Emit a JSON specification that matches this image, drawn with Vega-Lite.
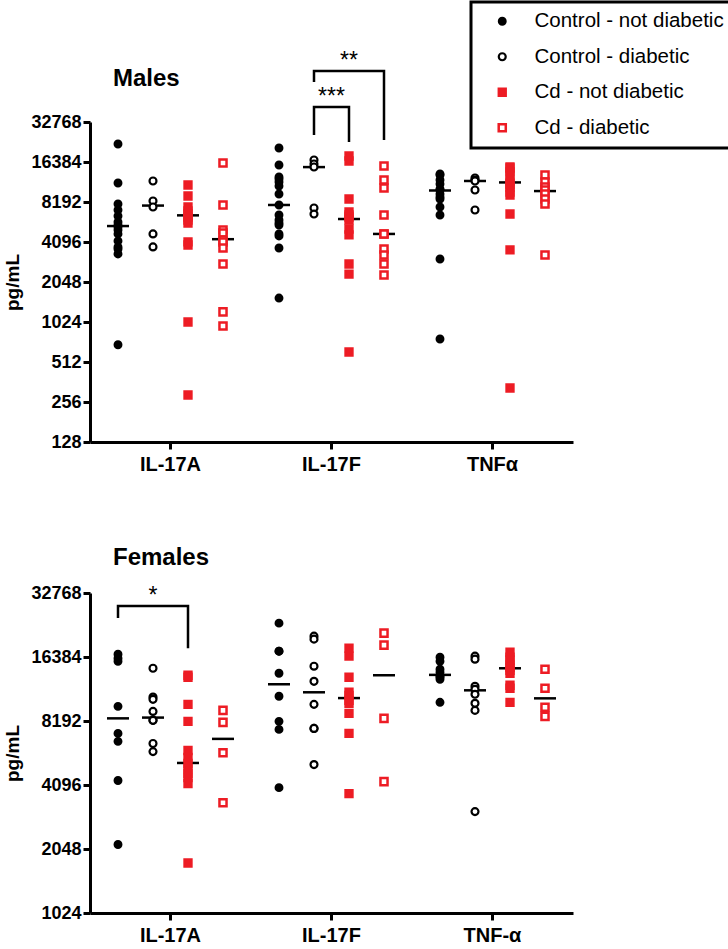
{
"$schema":"https://vega.github.io/schema/vega-lite/v6.json",
"padding":{"left":3,"top":0,"right":0,"bottom":0},
"spacing":72,
"config":{
 "view":{"stroke":null},
 "font":"Liberation Sans",
 "axis":{"domainColor":"black","domainWidth":3,"tickColor":"black","tickWidth":3,"tickSize":7,"labelColor":"black","labelFont":"Liberation Sans","labelFontWeight":"bold","labelFontSize":18,"titleColor":"black","titleFont":"Liberation Sans","titleFontWeight":"bold","titleFontSize":19,"grid":false,"labelPadding":2},
 "axisX":{"labelFontSize":20},
 "legend":{"labelFont":"Liberation Sans","labelFontSize":20.5,"labelColor":"black","labelLimit":400,"padding":9,"rowPadding":14.5,"symbolOffset":12,"labelOffset":22,"strokeColor":"black","fillColor":"white"}
},
"resolve":{"scale":{"x":"independent","y":"independent","xOffset":"independent"},"legend":{"color":"independent","fill":"independent","shape":"independent","size":"independent","strokeWidth":"independent"}},
"datasets":{
 "points":[
{"s":"Males","c":"IL-17A","g":"Control - not diabetic","v":22380},
{"s":"Males","c":"IL-17A","g":"Control - not diabetic","v":11390},
{"s":"Males","c":"IL-17A","g":"Control - not diabetic","v":7910},
{"s":"Males","c":"IL-17A","g":"Control - not diabetic","v":7130},
{"s":"Males","c":"IL-17A","g":"Control - not diabetic","v":6430},
{"s":"Males","c":"IL-17A","g":"Control - not diabetic","v":5790},
{"s":"Males","c":"IL-17A","g":"Control - not diabetic","v":5500},
{"s":"Males","c":"IL-17A","g":"Control - not diabetic","v":5310},
{"s":"Males","c":"IL-17A","g":"Control - not diabetic","v":5040},
{"s":"Males","c":"IL-17A","g":"Control - not diabetic","v":4710},
{"s":"Males","c":"IL-17A","g":"Control - not diabetic","v":4170},
{"s":"Males","c":"IL-17A","g":"Control - not diabetic","v":3760},
{"s":"Males","c":"IL-17A","g":"Control - not diabetic","v":3630},
{"s":"Males","c":"IL-17A","g":"Control - not diabetic","v":3330},
{"s":"Males","c":"IL-17A","g":"Control - not diabetic","v":690},
{"s":"Males","c":"IL-17A","g":"Control - diabetic","v":11790},
{"s":"Males","c":"IL-17A","g":"Control - diabetic","v":8340},
{"s":"Males","c":"IL-17A","g":"Control - diabetic","v":7510},
{"s":"Males","c":"IL-17A","g":"Control - diabetic","v":4710},
{"s":"Males","c":"IL-17A","g":"Control - diabetic","v":3760},
{"s":"Males","c":"IL-17A","g":"Cd - not diabetic","v":11000},
{"s":"Males","c":"IL-17A","g":"Cd - not diabetic","v":9090},
{"s":"Males","c":"IL-17A","g":"Cd - not diabetic","v":7510},
{"s":"Males","c":"IL-17A","g":"Cd - not diabetic","v":7010},
{"s":"Males","c":"IL-17A","g":"Cd - not diabetic","v":6650},
{"s":"Males","c":"IL-17A","g":"Cd - not diabetic","v":6320},
{"s":"Males","c":"IL-17A","g":"Cd - not diabetic","v":6000},
{"s":"Males","c":"IL-17A","g":"Cd - not diabetic","v":5690},
{"s":"Males","c":"IL-17A","g":"Cd - not diabetic","v":4100},
{"s":"Males","c":"IL-17A","g":"Cd - not diabetic","v":3890},
{"s":"Males","c":"IL-17A","g":"Cd - not diabetic","v":1024},
{"s":"Males","c":"IL-17A","g":"Cd - not diabetic","v":289},
{"s":"Males","c":"IL-17A","g":"Cd - diabetic","v":16100},
{"s":"Males","c":"IL-17A","g":"Cd - diabetic","v":7780},
{"s":"Males","c":"IL-17A","g":"Cd - diabetic","v":5040},
{"s":"Males","c":"IL-17A","g":"Cd - diabetic","v":4790},
{"s":"Males","c":"IL-17A","g":"Cd - diabetic","v":4240},
{"s":"Males","c":"IL-17A","g":"Cd - diabetic","v":4100},
{"s":"Males","c":"IL-17A","g":"Cd - diabetic","v":3690},
{"s":"Males","c":"IL-17A","g":"Cd - diabetic","v":2800},
{"s":"Males","c":"IL-17A","g":"Cd - diabetic","v":1220},
{"s":"Males","c":"IL-17A","g":"Cd - diabetic","v":955},
{"s":"Males","c":"IL-17F","g":"Control - not diabetic","v":20880},
{"s":"Males","c":"IL-17F","g":"Control - not diabetic","v":15560},
{"s":"Males","c":"IL-17F","g":"Control - not diabetic","v":12640},
{"s":"Males","c":"IL-17F","g":"Control - not diabetic","v":12200},
{"s":"Males","c":"IL-17F","g":"Control - not diabetic","v":11590},
{"s":"Males","c":"IL-17F","g":"Control - not diabetic","v":10810},
{"s":"Males","c":"IL-17F","g":"Control - not diabetic","v":9410},
{"s":"Males","c":"IL-17F","g":"Control - not diabetic","v":7780},
{"s":"Males","c":"IL-17F","g":"Control - not diabetic","v":6540},
{"s":"Males","c":"IL-17F","g":"Control - not diabetic","v":6000},
{"s":"Males","c":"IL-17F","g":"Control - not diabetic","v":5690},
{"s":"Males","c":"IL-17F","g":"Control - not diabetic","v":5500},
{"s":"Males","c":"IL-17F","g":"Control - not diabetic","v":4710},
{"s":"Males","c":"IL-17F","g":"Control - not diabetic","v":4550},
{"s":"Males","c":"IL-17F","g":"Control - not diabetic","v":3690},
{"s":"Males","c":"IL-17F","g":"Control - not diabetic","v":1550},
{"s":"Males","c":"IL-17F","g":"Control - diabetic","v":16960},
{"s":"Males","c":"IL-17F","g":"Control - diabetic","v":15830},
{"s":"Males","c":"IL-17F","g":"Control - diabetic","v":15020},
{"s":"Males","c":"IL-17F","g":"Control - diabetic","v":7380},
{"s":"Males","c":"IL-17F","g":"Control - diabetic","v":6650},
{"s":"Males","c":"IL-17F","g":"Cd - not diabetic","v":18180},
{"s":"Males","c":"IL-17F","g":"Cd - not diabetic","v":16680},
{"s":"Males","c":"IL-17F","g":"Cd - not diabetic","v":8630},
{"s":"Males","c":"IL-17F","g":"Cd - not diabetic","v":6890},
{"s":"Males","c":"IL-17F","g":"Cd - not diabetic","v":6540},
{"s":"Males","c":"IL-17F","g":"Cd - not diabetic","v":6320},
{"s":"Males","c":"IL-17F","g":"Cd - not diabetic","v":6000},
{"s":"Males","c":"IL-17F","g":"Cd - not diabetic","v":5130},
{"s":"Males","c":"IL-17F","g":"Cd - not diabetic","v":4630},
{"s":"Males","c":"IL-17F","g":"Cd - not diabetic","v":2800},
{"s":"Males","c":"IL-17F","g":"Cd - not diabetic","v":2350},
{"s":"Males","c":"IL-17F","g":"Cd - not diabetic","v":609},
{"s":"Males","c":"IL-17F","g":"Cd - diabetic","v":15290},
{"s":"Males","c":"IL-17F","g":"Cd - diabetic","v":11990},
{"s":"Males","c":"IL-17F","g":"Cd - diabetic","v":10440},
{"s":"Males","c":"IL-17F","g":"Cd - diabetic","v":6540},
{"s":"Males","c":"IL-17F","g":"Cd - diabetic","v":4710},
{"s":"Males","c":"IL-17F","g":"Cd - diabetic","v":4710},
{"s":"Males","c":"IL-17F","g":"Cd - diabetic","v":3630},
{"s":"Males","c":"IL-17F","g":"Cd - diabetic","v":3270},
{"s":"Males","c":"IL-17F","g":"Cd - diabetic","v":2800},
{"s":"Males","c":"IL-17F","g":"Cd - diabetic","v":2310},
{"s":"Males","c":"TNFα","g":"Control - not diabetic","v":13310},
{"s":"Males","c":"TNFα","g":"Control - not diabetic","v":13080},
{"s":"Males","c":"TNFα","g":"Control - not diabetic","v":11990},
{"s":"Males","c":"TNFα","g":"Control - not diabetic","v":11190},
{"s":"Males","c":"TNFα","g":"Control - not diabetic","v":10270},
{"s":"Males","c":"TNFα","g":"Control - not diabetic","v":10090},
{"s":"Males","c":"TNFα","g":"Control - not diabetic","v":9410},
{"s":"Males","c":"TNFα","g":"Control - not diabetic","v":8930},
{"s":"Males","c":"TNFα","g":"Control - not diabetic","v":8630},
{"s":"Males","c":"TNFα","g":"Control - not diabetic","v":7510},
{"s":"Males","c":"TNFα","g":"Control - not diabetic","v":6540},
{"s":"Males","c":"TNFα","g":"Control - not diabetic","v":3050},
{"s":"Males","c":"TNFα","g":"Control - not diabetic","v":763},
{"s":"Males","c":"TNFα","g":"Control - diabetic","v":12420},
{"s":"Males","c":"TNFα","g":"Control - diabetic","v":11990},
{"s":"Males","c":"TNFα","g":"Control - diabetic","v":11790},
{"s":"Males","c":"TNFα","g":"Control - diabetic","v":10090},
{"s":"Males","c":"TNFα","g":"Control - diabetic","v":7130},
{"s":"Males","c":"TNFα","g":"Cd - not diabetic","v":15020},
{"s":"Males","c":"TNFα","g":"Cd - not diabetic","v":14770},
{"s":"Males","c":"TNFα","g":"Cd - not diabetic","v":13780},
{"s":"Males","c":"TNFα","g":"Cd - not diabetic","v":12860},
{"s":"Males","c":"TNFα","g":"Cd - not diabetic","v":11590},
{"s":"Males","c":"TNFα","g":"Cd - not diabetic","v":11190},
{"s":"Males","c":"TNFα","g":"Cd - not diabetic","v":10620},
{"s":"Males","c":"TNFα","g":"Cd - not diabetic","v":9740},
{"s":"Males","c":"TNFα","g":"Cd - not diabetic","v":9250},
{"s":"Males","c":"TNFα","g":"Cd - not diabetic","v":6650},
{"s":"Males","c":"TNFα","g":"Cd - not diabetic","v":3570},
{"s":"Males","c":"TNFα","g":"Cd - not diabetic","v":326},
{"s":"Males","c":"TNFα","g":"Cd - diabetic","v":13080},
{"s":"Males","c":"TNFα","g":"Cd - diabetic","v":11590},
{"s":"Males","c":"TNFα","g":"Cd - diabetic","v":10620},
{"s":"Males","c":"TNFα","g":"Cd - diabetic","v":10090},
{"s":"Males","c":"TNFα","g":"Cd - diabetic","v":9410},
{"s":"Males","c":"TNFα","g":"Cd - diabetic","v":8630},
{"s":"Males","c":"TNFα","g":"Cd - diabetic","v":7910},
{"s":"Males","c":"TNFα","g":"Cd - diabetic","v":3270},
{"s":"Females","c":"IL-17A","g":"Control - not diabetic","v":16890},
{"s":"Females","c":"IL-17A","g":"Control - not diabetic","v":16180},
{"s":"Females","c":"IL-17A","g":"Control - not diabetic","v":15650},
{"s":"Females","c":"IL-17A","g":"Control - not diabetic","v":9600},
{"s":"Females","c":"IL-17A","g":"Control - not diabetic","v":7160},
{"s":"Females","c":"IL-17A","g":"Control - not diabetic","v":6570},
{"s":"Females","c":"IL-17A","g":"Control - not diabetic","v":4300},
{"s":"Females","c":"IL-17A","g":"Control - not diabetic","v":2150},
{"s":"Females","c":"IL-17A","g":"Control - diabetic","v":14500},
{"s":"Females","c":"IL-17A","g":"Control - diabetic","v":10620},
{"s":"Females","c":"IL-17A","g":"Control - diabetic","v":10360},
{"s":"Females","c":"IL-17A","g":"Control - diabetic","v":9090},
{"s":"Females","c":"IL-17A","g":"Control - diabetic","v":8250},
{"s":"Females","c":"IL-17A","g":"Control - diabetic","v":8250},
{"s":"Females","c":"IL-17A","g":"Control - diabetic","v":6420},
{"s":"Females","c":"IL-17A","g":"Control - diabetic","v":5880},
{"s":"Females","c":"IL-17A","g":"Cd - not diabetic","v":13450},
{"s":"Females","c":"IL-17A","g":"Cd - not diabetic","v":13160},
{"s":"Females","c":"IL-17A","g":"Cd - not diabetic","v":9810},
{"s":"Females","c":"IL-17A","g":"Cd - not diabetic","v":8160},
{"s":"Females","c":"IL-17A","g":"Cd - not diabetic","v":5950},
{"s":"Females","c":"IL-17A","g":"Cd - not diabetic","v":5520},
{"s":"Females","c":"IL-17A","g":"Cd - not diabetic","v":5170},
{"s":"Females","c":"IL-17A","g":"Cd - not diabetic","v":4890},
{"s":"Females","c":"IL-17A","g":"Cd - not diabetic","v":4640},
{"s":"Females","c":"IL-17A","g":"Cd - not diabetic","v":4440},
{"s":"Females","c":"IL-17A","g":"Cd - not diabetic","v":4160},
{"s":"Females","c":"IL-17A","g":"Cd - not diabetic","v":1760},
{"s":"Females","c":"IL-17A","g":"Cd - diabetic","v":9190},
{"s":"Females","c":"IL-17A","g":"Cd - diabetic","v":8070},
{"s":"Females","c":"IL-17A","g":"Cd - diabetic","v":5810},
{"s":"Females","c":"IL-17A","g":"Cd - diabetic","v":3380},
{"s":"Females","c":"IL-17F","g":"Control - not diabetic","v":23640},
{"s":"Females","c":"IL-17F","g":"Control - not diabetic","v":17450},
{"s":"Females","c":"IL-17F","g":"Control - not diabetic","v":17450},
{"s":"Females","c":"IL-17F","g":"Control - not diabetic","v":13740},
{"s":"Females","c":"IL-17F","g":"Control - not diabetic","v":10710},
{"s":"Females","c":"IL-17F","g":"Control - not diabetic","v":8160},
{"s":"Females","c":"IL-17F","g":"Control - not diabetic","v":7480},
{"s":"Females","c":"IL-17F","g":"Control - not diabetic","v":3980},
{"s":"Females","c":"IL-17F","g":"Control - diabetic","v":20540},
{"s":"Females","c":"IL-17F","g":"Control - diabetic","v":19880},
{"s":"Females","c":"IL-17F","g":"Control - diabetic","v":14830},
{"s":"Females","c":"IL-17F","g":"Control - diabetic","v":12590},
{"s":"Females","c":"IL-17F","g":"Control - diabetic","v":9810},
{"s":"Females","c":"IL-17F","g":"Control - diabetic","v":7560},
{"s":"Females","c":"IL-17F","g":"Control - diabetic","v":7560},
{"s":"Females","c":"IL-17F","g":"Control - diabetic","v":5110},
{"s":"Females","c":"IL-17F","g":"Cd - not diabetic","v":18030},
{"s":"Females","c":"IL-17F","g":"Cd - not diabetic","v":16530},
{"s":"Females","c":"IL-17F","g":"Cd - not diabetic","v":13160},
{"s":"Females","c":"IL-17F","g":"Cd - not diabetic","v":11180},
{"s":"Females","c":"IL-17F","g":"Cd - not diabetic","v":10820},
{"s":"Females","c":"IL-17F","g":"Cd - not diabetic","v":10250},
{"s":"Females","c":"IL-17F","g":"Cd - not diabetic","v":9920},
{"s":"Females","c":"IL-17F","g":"Cd - not diabetic","v":8900},
{"s":"Females","c":"IL-17F","g":"Cd - not diabetic","v":7160},
{"s":"Females","c":"IL-17F","g":"Cd - not diabetic","v":3730},
{"s":"Females","c":"IL-17F","g":"Cd - diabetic","v":21220},
{"s":"Females","c":"IL-17F","g":"Cd - diabetic","v":18630},
{"s":"Females","c":"IL-17F","g":"Cd - diabetic","v":8430},
{"s":"Females","c":"IL-17F","g":"Cd - diabetic","v":4250},
{"s":"Females","c":"TNF-α","g":"Control - not diabetic","v":16350},
{"s":"Females","c":"TNF-α","g":"Control - not diabetic","v":15650},
{"s":"Females","c":"TNF-α","g":"Control - not diabetic","v":14350},
{"s":"Females","c":"TNF-α","g":"Control - not diabetic","v":13890},
{"s":"Females","c":"TNF-α","g":"Control - not diabetic","v":13300},
{"s":"Females","c":"TNF-α","g":"Control - not diabetic","v":13160},
{"s":"Females","c":"TNF-α","g":"Control - not diabetic","v":12870},
{"s":"Females","c":"TNF-α","g":"Control - not diabetic","v":10030},
{"s":"Females","c":"TNF-α","g":"Control - diabetic","v":16530},
{"s":"Females","c":"TNF-α","g":"Control - diabetic","v":16000},
{"s":"Females","c":"TNF-α","g":"Control - diabetic","v":11930},
{"s":"Females","c":"TNF-α","g":"Control - diabetic","v":11550},
{"s":"Females","c":"TNF-α","g":"Control - diabetic","v":10940},
{"s":"Females","c":"TNF-α","g":"Control - diabetic","v":9920},
{"s":"Females","c":"TNF-α","g":"Control - diabetic","v":9190},
{"s":"Females","c":"TNF-α","g":"Control - diabetic","v":3070},
{"s":"Females","c":"TNF-α","g":"Cd - not diabetic","v":17260},
{"s":"Females","c":"TNF-α","g":"Cd - not diabetic","v":16350},
{"s":"Females","c":"TNF-α","g":"Cd - not diabetic","v":15820},
{"s":"Females","c":"TNF-α","g":"Cd - not diabetic","v":14990},
{"s":"Females","c":"TNF-α","g":"Cd - not diabetic","v":14660},
{"s":"Females","c":"TNF-α","g":"Cd - not diabetic","v":14200},
{"s":"Females","c":"TNF-α","g":"Cd - not diabetic","v":13740},
{"s":"Females","c":"TNF-α","g":"Cd - not diabetic","v":12060},
{"s":"Females","c":"TNF-α","g":"Cd - not diabetic","v":11680},
{"s":"Females","c":"TNF-α","g":"Cd - not diabetic","v":10030},
{"s":"Females","c":"TNF-α","g":"Cd - diabetic","v":14350},
{"s":"Females","c":"TNF-α","g":"Cd - diabetic","v":11680},
{"s":"Females","c":"TNF-α","g":"Cd - diabetic","v":9500},
{"s":"Females","c":"TNF-α","g":"Cd - diabetic","v":8610}
 ],
 "medians":[
{"s":"Males","c":"IL-17A","g":"Control - not diabetic","v":5400},
{"s":"Males","c":"IL-17A","g":"Control - diabetic","v":7700},
{"s":"Males","c":"IL-17A","g":"Cd - not diabetic","v":6500},
{"s":"Males","c":"IL-17A","g":"Cd - diabetic","v":4300},
{"s":"Males","c":"IL-17F","g":"Control - not diabetic","v":7780},
{"s":"Males","c":"IL-17F","g":"Control - diabetic","v":15000},
{"s":"Males","c":"IL-17F","g":"Cd - not diabetic","v":6100},
{"s":"Males","c":"IL-17F","g":"Cd - diabetic","v":4710},
{"s":"Males","c":"TNFα","g":"Control - not diabetic","v":10000},
{"s":"Males","c":"TNFα","g":"Control - diabetic","v":11790},
{"s":"Males","c":"TNFα","g":"Cd - not diabetic","v":11500},
{"s":"Males","c":"TNFα","g":"Cd - diabetic","v":9900},
{"s":"Females","c":"IL-17A","g":"Control - not diabetic","v":8430},
{"s":"Females","c":"IL-17A","g":"Control - diabetic","v":8500},
{"s":"Females","c":"IL-17A","g":"Cd - not diabetic","v":5200},
{"s":"Females","c":"IL-17A","g":"Cd - diabetic","v":6750},
{"s":"Females","c":"IL-17F","g":"Control - not diabetic","v":12195},
{"s":"Females","c":"IL-17F","g":"Control - diabetic","v":11180},
{"s":"Females","c":"IL-17F","g":"Cd - not diabetic","v":10500},
{"s":"Females","c":"IL-17F","g":"Cd - diabetic","v":13445},
{"s":"Females","c":"TNF-α","g":"Control - not diabetic","v":13500},
{"s":"Females","c":"TNF-α","g":"Control - diabetic","v":11420},
{"s":"Females","c":"TNF-α","g":"Cd - not diabetic","v":14500},
{"s":"Females","c":"TNF-α","g":"Cd - diabetic","v":10470}
 ],
 "brackets":[
{"s":"Males","b":"b1","o":1,"c":"IL-17F","g":"Control - diabetic","v":26160},
{"s":"Males","b":"b1","o":2,"c":"IL-17F","g":"Control - diabetic","v":42500},
{"s":"Males","b":"b1","o":3,"c":"IL-17F","g":"Cd - not diabetic","v":42500},
{"s":"Males","b":"b1","o":4,"c":"IL-17F","g":"Cd - not diabetic","v":23170},
{"s":"Males","b":"b2","o":1,"c":"IL-17F","g":"Control - diabetic","v":65536},
{"s":"Males","b":"b2","o":2,"c":"IL-17F","g":"Control - diabetic","v":79300},
{"s":"Males","b":"b2","o":3,"c":"IL-17F","g":"Cd - diabetic","v":79300},
{"s":"Males","b":"b2","o":4,"c":"IL-17F","g":"Cd - diabetic","v":23990},
{"s":"Females","b":"b3","o":1,"c":"IL-17A","g":"Control - not diabetic","v":24975},
{"s":"Females","b":"b3","o":2,"c":"IL-17A","g":"Control - not diabetic","v":28450},
{"s":"Females","b":"b3","o":3,"c":"IL-17A","g":"Cd - not diabetic","v":28450},
{"s":"Females","b":"b3","o":4,"c":"IL-17A","g":"Cd - not diabetic","v":18025}
 ],
 "stars":[
{"s":"Males","c":"IL-17F","v":42500,"t":"***"},
{"s":"Males","c":"IL-17F","g":"Cd - not diabetic","v":79300,"t":"**"},
{"s":"Females","c":"IL-17A","g":"Control - diabetic","v":28450,"t":"*"}
 ]
},
"vconcat":[
{
 "width":483,"height":320,
 "title":{"text":"Males","anchor":"start","frame":"group","dx":23,"dy":121,"offset":31,"fontSize":24,"fontWeight":"bold","color":"black","font":"Liberation Sans"},
 "encoding":{
  "x":{"field":"c","type":"nominal","sort":null,"scale":{"domain":["IL-17A","IL-17F","TNFα"],"paddingInner":0,"paddingOuter":0},"axis":{"title":null,"labelAngle":0,"labelPadding":5}},
  "y":{"field":"v","type":"quantitative","scale":{"type":"log","base":2,"domain":[128,32768],"nice":false},"axis":{"values":[128,256,512,1024,2048,4096,8192,16384,32768],"format":"d","title":"pg/mL","titlePadding":8}}
 },
 "layer":[
  {"data":{"name":"medians"},"transform":[{"filter":"datum.s==='Males'"}],
   "mark":{"type":"tick","orient":"horizontal","color":"black","opacity":1,"size":22,"thickness":2.5},
   "encoding":{"xOffset":{"field":"g","type":"nominal","sort":null,"scale":{"domain":["Control - not diabetic","Control - diabetic","Cd - not diabetic","Cd - diabetic"],"paddingInner":0,"paddingOuter":0.3}}}},
  {"data":{"name":"points"},"transform":[{"filter":"datum.s==='Males'"}],
   "mark":{"type":"point","filled":false,"opacity":1},
   "encoding":{
    "xOffset":{"field":"g","type":"nominal","sort":null,"scale":{"domain":["Control - not diabetic","Control - diabetic","Cd - not diabetic","Cd - diabetic"],"paddingInner":0,"paddingOuter":0.3}},
    "color":{"field":"g","type":"nominal","sort":null,"scale":{"domain":["Control - not diabetic","Control - diabetic","Cd - not diabetic","Cd - diabetic"],"range":["#000000","#000000","#ED1C24","#ED1C24"]},"legend":{"orient":"none","legendX":381,"legendY":-120,"title":null,"encoding":{"legend":{"strokeWidth":{"value":3}}}}},
    "fill":{"field":"g","type":"nominal","sort":null,"scale":{"domain":["Control - not diabetic","Control - diabetic","Cd - not diabetic","Cd - diabetic"],"range":["#000000","#ffffff","#ED1C24","#ffffff"]},"legend":{"orient":"none","legendX":381,"legendY":-120,"title":null,"encoding":{"legend":{"strokeWidth":{"value":3}}}}},
    "shape":{"field":"g","type":"nominal","sort":null,"scale":{"domain":["Control - not diabetic","Control - diabetic","Cd - not diabetic","Cd - diabetic"],"range":["circle","circle","square","square"]},"legend":{"orient":"none","legendX":381,"legendY":-120,"title":null,"encoding":{"legend":{"strokeWidth":{"value":3}}}}},
    "size":{"field":"g","type":"nominal","sort":null,"scale":{"domain":["Control - not diabetic","Control - diabetic","Cd - not diabetic","Cd - diabetic"],"range":[48,50,42,56]},"legend":{"orient":"none","legendX":381,"legendY":-120,"title":null,"encoding":{"legend":{"strokeWidth":{"value":3}}}}},
    "strokeWidth":{"field":"g","type":"nominal","sort":null,"scale":{"domain":["Control - not diabetic","Control - diabetic","Cd - not diabetic","Cd - diabetic"],"range":[2,2.5,2,3.5]},"legend":{"orient":"none","legendX":381,"legendY":-120,"title":null,"encoding":{"legend":{"strokeWidth":{"value":3}}}}}
   }},
  {"data":{"name":"brackets"},"transform":[{"filter":"datum.s==='Males'"}],
   "mark":{"type":"line","color":"black","strokeWidth":2.5,"clip":false},
   "encoding":{
    "xOffset":{"field":"g","type":"nominal","sort":null,"scale":{"domain":["Control - not diabetic","Control - diabetic","Cd - not diabetic","Cd - diabetic"],"paddingInner":0,"paddingOuter":0.3}},
    "detail":{"field":"b"},
    "order":{"field":"o","type":"quantitative"}
   }},
  {"data":{"name":"stars"},"transform":[{"filter":"datum.s==='Males' && !datum.g"}],
   "mark":{"type":"text","fontSize":23,"baseline":"alphabetic","dy":-3,"align":"center","color":"black","clip":false},
   "encoding":{"text":{"field":"t"}}},
  {"data":{"name":"stars"},"transform":[{"filter":"datum.s==='Males' && datum.g"}],
   "mark":{"type":"text","fontSize":23,"baseline":"alphabetic","dy":-3,"align":"center","color":"black","clip":false},
   "encoding":{
    "xOffset":{"field":"g","type":"nominal","sort":null,"scale":{"domain":["Control - not diabetic","Control - diabetic","Cd - not diabetic","Cd - diabetic"],"paddingInner":0,"paddingOuter":0.3}},
    "text":{"field":"t"}}}
 ]
},
{
 "width":483,"height":320,
 "title":{"text":"Females","anchor":"start","frame":"group","dx":23,"dy":8,"offset":22,"fontSize":24,"fontWeight":"bold","color":"black","font":"Liberation Sans"},
 "encoding":{
  "x":{"field":"c","type":"nominal","sort":null,"scale":{"domain":["IL-17A","IL-17F","TNF-α"],"paddingInner":0,"paddingOuter":0},"axis":{"title":null,"labelAngle":0,"labelPadding":5}},
  "y":{"field":"v","type":"quantitative","scale":{"type":"log","base":2,"domain":[1024,32768],"nice":false},"axis":{"values":[1024,2048,4096,8192,16384,32768],"format":"d","title":"pg/mL","titlePadding":8}}
 },
 "layer":[
  {"data":{"name":"medians"},"transform":[{"filter":"datum.s==='Females'"}],
   "mark":{"type":"tick","orient":"horizontal","color":"black","opacity":1,"size":22,"thickness":2.5},
   "encoding":{"xOffset":{"field":"g","type":"nominal","sort":null,"scale":{"domain":["Control - not diabetic","Control - diabetic","Cd - not diabetic","Cd - diabetic"],"paddingInner":0,"paddingOuter":0.3}}}},
  {"data":{"name":"points"},"transform":[{"filter":"datum.s==='Females'"}],
   "mark":{"type":"point","filled":false,"opacity":1},
   "encoding":{
    "xOffset":{"field":"g","type":"nominal","sort":null,"scale":{"domain":["Control - not diabetic","Control - diabetic","Cd - not diabetic","Cd - diabetic"],"paddingInner":0,"paddingOuter":0.3}},
    "color":{"field":"g","type":"nominal","sort":null,"scale":{"domain":["Control - not diabetic","Control - diabetic","Cd - not diabetic","Cd - diabetic"],"range":["#000000","#000000","#ED1C24","#ED1C24"]},"legend":null},
    "fill":{"field":"g","type":"nominal","sort":null,"scale":{"domain":["Control - not diabetic","Control - diabetic","Cd - not diabetic","Cd - diabetic"],"range":["#000000","#ffffff","#ED1C24","#ffffff"]},"legend":null},
    "shape":{"field":"g","type":"nominal","sort":null,"scale":{"domain":["Control - not diabetic","Control - diabetic","Cd - not diabetic","Cd - diabetic"],"range":["circle","circle","square","square"]},"legend":null},
    "size":{"field":"g","type":"nominal","sort":null,"scale":{"domain":["Control - not diabetic","Control - diabetic","Cd - not diabetic","Cd - diabetic"],"range":[48,50,42,56]},"legend":null},
    "strokeWidth":{"field":"g","type":"nominal","sort":null,"scale":{"domain":["Control - not diabetic","Control - diabetic","Cd - not diabetic","Cd - diabetic"],"range":[2,2.5,2,3.5]},"legend":null}
   }},
  {"data":{"name":"brackets"},"transform":[{"filter":"datum.s==='Females'"}],
   "mark":{"type":"line","color":"black","strokeWidth":2.5,"clip":false},
   "encoding":{
    "xOffset":{"field":"g","type":"nominal","sort":null,"scale":{"domain":["Control - not diabetic","Control - diabetic","Cd - not diabetic","Cd - diabetic"],"paddingInner":0,"paddingOuter":0.3}},
    "detail":{"field":"b"},
    "order":{"field":"o","type":"quantitative"}
   }},
  {"data":{"name":"stars"},"transform":[{"filter":"datum.s==='Females' && datum.g"}],
   "mark":{"type":"text","fontSize":23,"baseline":"alphabetic","dy":-3,"align":"center","color":"black","clip":false},
   "encoding":{
    "xOffset":{"field":"g","type":"nominal","sort":null,"scale":{"domain":["Control - not diabetic","Control - diabetic","Cd - not diabetic","Cd - diabetic"],"paddingInner":0,"paddingOuter":0.3}},
    "text":{"field":"t"}}}
 ]
}
]
}
